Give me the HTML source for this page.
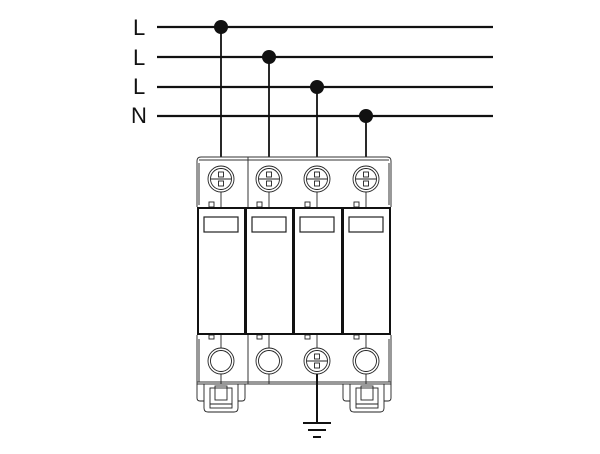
<!DOCTYPE html>
<html><head><style>html,body{margin:0;padding:0;background:#fff;}svg{display:block}</style></head>
<body>
<svg width="600" height="454" viewBox="0 0 600 454" xmlns="http://www.w3.org/2000/svg">
<g font-family="Liberation Sans, sans-serif" font-size="22" fill="#111">
<text x="133" y="35">L</text><text x="133" y="65">L</text><text x="133" y="94">L</text><text x="131" y="123">N</text>
</g>
<g stroke="#111" stroke-width="2.2">
<line x1="157" y1="27" x2="493" y2="27"/><line x1="157" y1="57" x2="493" y2="57"/>
<line x1="157" y1="87" x2="493" y2="87"/><line x1="157" y1="116" x2="493" y2="116"/>
</g>
<g stroke="#111" stroke-width="1.8">
<line x1="221" y1="27" x2="221" y2="157"/><line x1="269" y1="57" x2="269" y2="157"/>
<line x1="317" y1="87" x2="317" y2="157"/><line x1="366" y1="116" x2="366" y2="157"/>
</g>
<g fill="#111"><circle cx="221" cy="27" r="7"/><circle cx="269" cy="57" r="7"/><circle cx="317" cy="87" r="7"/><circle cx="366" cy="116" r="7"/></g>
<g fill="none" stroke="#333" stroke-width="1">
<path d="M197 207 V161 Q197 157 201 157 H387 Q391 157 391 161 V207"/>
<line x1="199" y1="160" x2="389" y2="160"/>
<line x1="248" y1="157" x2="248" y2="207"/>
<path d="M197 335 V384 H391 V335"/>
<line x1="197" y1="382" x2="391" y2="382"/>
<line x1="248" y1="335" x2="248" y2="384"/>
<line x1="199" y1="339" x2="199" y2="382"/><line x1="389" y1="339" x2="389" y2="382"/>
<line x1="199" y1="163" x2="199" y2="205"/><line x1="389" y1="163" x2="389" y2="205"/>
</g>
<g fill="none" stroke="#222" stroke-width="0.9">
<g id="sc">
<circle cx="221" cy="179" r="13"/><circle cx="221" cy="179" r="10.5"/>
<line x1="211" y1="179" x2="231" y2="179"/>
<rect x="218.5" y="172" width="5" height="5"/><rect x="218.5" y="181" width="5" height="5"/>
</g>
<use href="#sc" x="48"/><use href="#sc" x="96"/><use href="#sc" x="145"/>
<use href="#sc" x="96" y="182"/>
<circle cx="221" cy="361" r="13"/><circle cx="221" cy="361" r="10.5"/>
<circle cx="269" cy="361" r="13"/><circle cx="269" cy="361" r="10.5"/>
<circle cx="366" cy="361" r="13"/><circle cx="366" cy="361" r="10.5"/>
<line x1="221" y1="192" x2="221" y2="207"/><line x1="269" y1="192" x2="269" y2="207"/>
<line x1="317" y1="192" x2="317" y2="207"/><line x1="366" y1="192" x2="366" y2="207"/>
<line x1="221" y1="335" x2="221" y2="348"/><line x1="269" y1="335" x2="269" y2="348"/>
<line x1="317" y1="335" x2="317" y2="348"/><line x1="366" y1="335" x2="366" y2="348"/>
<line x1="221" y1="374" x2="221" y2="384"/><line x1="269" y1="374" x2="269" y2="384"/><line x1="366" y1="374" x2="366" y2="384"/>
<rect x="209" y="202" width="5" height="5"/><rect x="257" y="202" width="5" height="5"/><rect x="305" y="202" width="5" height="5"/><rect x="354" y="202" width="5" height="5"/>
<rect x="209" y="335" width="5" height="4"/><rect x="257" y="335" width="5" height="4"/><rect x="305" y="335" width="5" height="4"/><rect x="354" y="335" width="5" height="4"/>
<g id="ft">
<path d="M204 384 V408 Q204 412 208 412 H234 Q238 412 238 408 V384"/>
<path d="M197 384 V398 Q197 401 200 401 H204"/><path d="M245 384 V398 Q245 401 242 401 H238"/>
<rect x="210" y="388" width="22" height="20"/>
<rect x="215" y="386" width="12" height="14"/>
<line x1="210" y1="404" x2="232" y2="404"/>
</g>
<use href="#ft" x="146"/>
</g>
<g fill="none" stroke="#111" stroke-width="2">
<rect x="198" y="208" width="47" height="126"/>
<rect x="246" y="208" width="47" height="126"/>
<rect x="294" y="208" width="48" height="126"/>
<rect x="343" y="208" width="47" height="126"/>
</g>
<g fill="none" stroke="#222" stroke-width="1.2">
<rect x="204" y="217" width="34" height="15"/><rect x="252" y="217" width="34" height="15"/>
<rect x="300" y="217" width="34" height="15"/><rect x="349" y="217" width="34" height="15"/>
</g>
<g stroke="#111" stroke-width="2">
<line x1="317" y1="374" x2="317" y2="422"/>
<line x1="303" y1="423" x2="331" y2="423"/>
<line x1="308" y1="430" x2="326" y2="430"/>
<line x1="313" y1="437" x2="321" y2="437"/>
</g>
</svg>
</body></html>
